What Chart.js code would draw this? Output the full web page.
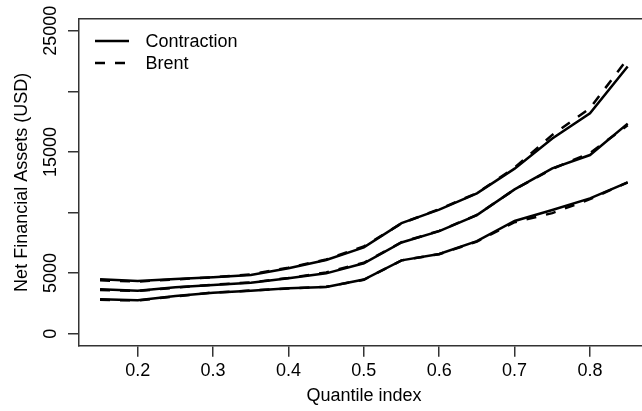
<!DOCTYPE html>
<html>
<head>
<meta charset="utf-8">
<script src="https://cdn.jsdelivr.net/npm/chart.js@4"></script>
<style>
  html, body { margin: 0; background: #fff; overflow: hidden; }
  canvas { display: block; }
</style>
</head>
<body>
<!-- the plot box runs a little past the right edge of the picture, as in the original -->
<canvas id="myChart" width="649" height="411"></canvas>
<script>
// Quantile index (x axis)
var quantiles = [0.15, 0.2, 0.25, 0.3, 0.35, 0.4, 0.45, 0.5, 0.55, 0.6, 0.65, 0.7, 0.75, 0.8, 0.85];

// Contraction (solid lines), three bands
var contractionLow  = [2840, 2760, 3110, 3380, 3550, 3750, 3850, 4470, 6050, 6580, 7630, 9300, 10200, 11170, 12490];
var contractionMid  = [3660, 3550, 3830, 4020, 4210, 4570, 4980, 5810, 7530, 8460, 9790, 11910, 13640, 14740, 17330];
var contractionHigh = [4490, 4350, 4510, 4650, 4840, 5400, 6080, 7120, 9120, 10230, 11580, 13620, 16100, 18180, 22050];

// Brent (dashed lines), three bands
var brentLow  = [2800, 2740, 3080, 3400, 3560, 3730, 3870, 4450, 6050, 6560, 7600, 9200, 9950, 11100, 12490];
var brentMid  = [3600, 3520, 3800, 4050, 4230, 4600, 5050, 5850, 7550, 8480, 9800, 11900, 13600, 14900, 17200];
var brentHigh = [4400, 4300, 4480, 4650, 4900, 5450, 6120, 7200, 9100, 10280, 11600, 13700, 16400, 18600, 22700];

// Tick positions and labels
var xTicks = [0.2, 0.3, 0.4, 0.5, 0.6, 0.7, 0.8];
var xTickLabels = ['0.2', '0.3', '0.4', '0.5', '0.6', '0.7', '0.8'];
var yTicks = [0, 5000, 10000, 15000, 20000, 25000];
var yTickLabels = ['0', '5000', '', '15000', '', '25000'];

var axisColor = '#333';
var dashPattern = [10, 10];
var lineWidth = 2.5;
var fontFamily = '"Liberation Sans", Arial, sans-serif';

Chart.defaults.font.family = fontFamily;
Chart.defaults.font.size = 18;
Chart.defaults.color = '#000';

function toPoints(values) {
    return quantiles.map(function (q, i) { return { x: q, y: values[i] }; });
}

function series(label, values, dashed) {
    return {
        label: label,
        data: toPoints(values),
        borderColor: '#000',
        borderWidth: lineWidth,
        borderDash: dashed ? dashPattern : [],
        pointRadius: 0,
        tension: 0,
        fill: false
    };
}

// y tick labels turned 90 degrees and centred on their ticks, as R does (las = 0)
var rotatedYLabels = {
    id: 'rotatedYLabels',
    afterDraw: function (chart) {
        var ctx = chart.ctx;
        var scale = chart.scales.y;
        ctx.save();
        ctx.font = '18px ' + fontFamily;
        ctx.fillStyle = '#000';
        ctx.textAlign = 'center';
        ctx.textBaseline = 'middle';
        yTicks.forEach(function (v, i) {
            if (!yTickLabels[i]) return;
            ctx.save();
            ctx.translate(scale.right - 28, scale.getPixelForValue(v));
            ctx.rotate(-Math.PI / 2);
            ctx.fillText(yTickLabels[i], 0, 0);
            ctx.restore();
        });
        ctx.restore();
    }
};

// legend drawn like R's legend() in the top-left corner of the plot box
var legendItems = [
    { text: 'Contraction', dash: [] },
    { text: 'Brent', dash: dashPattern }
];

var rLegend = {
    id: 'rLegend',
    afterDraw: function (chart) {
        var ctx = chart.ctx;
        var area = chart.chartArea;
        ctx.save();
        ctx.font = '18px ' + fontFamily;
        ctx.fillStyle = '#000';
        ctx.strokeStyle = '#000';
        ctx.lineWidth = lineWidth;
        ctx.textBaseline = 'middle';
        legendItems.forEach(function (item, i) {
            var y = area.top + 22 + i * 22;
            ctx.setLineDash(item.dash);
            ctx.beginPath();
            ctx.moveTo(area.left + 16, y);
            ctx.lineTo(area.left + 50, y);
            ctx.stroke();
            ctx.fillText(item.text, area.left + 66.5, y + 1);
        });
        ctx.restore();
    }
};

var ctx = document.getElementById('myChart').getContext('2d');

var chart = new Chart(ctx, {
    type: 'line',
    data: {
        datasets: [
            series('Contraction', contractionLow, false),
            series('Contraction', contractionMid, false),
            series('Contraction', contractionHigh, false),
            series('Brent', brentLow, true),
            series('Brent', brentMid, true),
            series('Brent', brentHigh, true)
        ]
    },
    options: {
        responsive: false,
        animation: false,
        layout: { padding: 0 },
        plugins: {
            legend: { display: false },
            tooltip: { enabled: false }
        },
        scales: {
            x: {
                type: 'linear',
                position: 'bottom',
                min: 0.1221,
                max: 0.8783,
                afterBuildTicks: function (s) { s.ticks = xTicks.map(function (v) { return { value: v }; }); },
                afterFit: function (s) { s.height = 65.3; },
                border: { display: true, color: axisColor, width: 1.5 },
                grid: { drawOnChartArea: false, drawTicks: true, tickLength: 11, color: axisColor, lineWidth: 1.5 },
                ticks: {
                    padding: 4,
                    autoSkip: false,
                    maxRotation: 0,
                    callback: function (v, i) { return xTickLabels[i]; }
                },
                title: { display: true, text: 'Quantile index', padding: { top: 0, bottom: 4 } }
            },
            xTop: {
                type: 'linear',
                position: 'top',
                min: 0.1221,
                max: 0.8783,
                afterFit: function (s) { s.height = 19; },
                border: { display: true, color: axisColor, width: 1.5 },
                grid: { display: false },
                ticks: { display: false }
            },
            y: {
                min: -990,
                max: 25965,
                afterBuildTicks: function (s) { s.ticks = yTicks.map(function (v) { return { value: v }; }); },
                afterFit: function (s) { s.width = 79; },
                border: { display: true, color: axisColor, width: 1.5 },
                grid: { drawOnChartArea: false, drawTicks: true, tickLength: 11, color: axisColor, lineWidth: 1.5 },
                ticks: { display: false },
                title: { display: true, text: 'Net Financial Assets (USD)', padding: { top: 11, bottom: 0 } }
            }
        }
    },
    plugins: [rotatedYLabels, rLegend]
});
</script>
</body>
</html>
